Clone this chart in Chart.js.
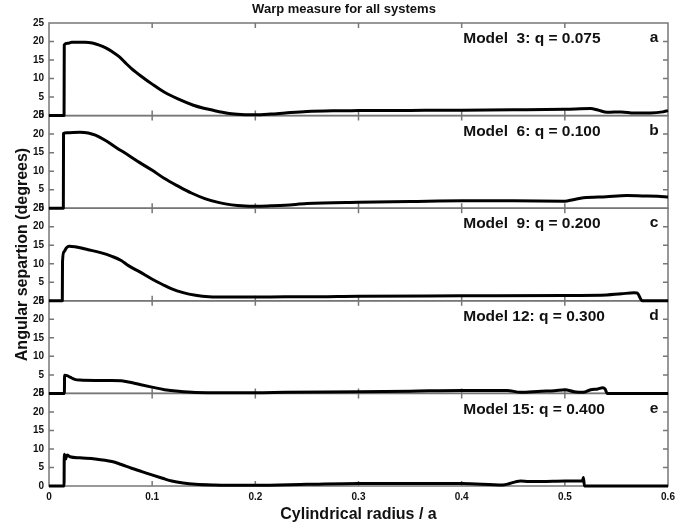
<!DOCTYPE html>
<html>
<head>
<meta charset="utf-8">
<script src="https://cdn.jsdelivr.net/npm/chart.js@4.4.1/dist/chart.umd.min.js"></script>
<style>
  html, body { margin: 0; padding: 0; background: #fff; }
</style>
</head>
<body>
<canvas id="warp-chart" width="688" height="524"></canvas>
<script>
// Dados (raio cilíndrico / a  e  separação angular em graus)
const raioA = [0, 0.0146, 0.0148, 0.018, 0.022, 0.035, 0.042, 0.048, 0.055, 0.061, 0.068, 0.075, 0.080, 0.090, 0.100, 0.112, 0.125, 0.140, 0.150, 0.158, 0.168, 0.177, 0.190, 0.200, 0.215, 0.229, 0.25, 0.275, 0.30, 0.35, 0.40, 0.45, 0.50, 0.525, 0.532, 0.541, 0.555, 0.567, 0.583, 0.595, 0.60];
const warpA = [0, 0, 19.1, 19.5, 19.8, 19.8, 19.6, 19.1, 18.3, 17.3, 15.9, 14.0, 12.7, 10.5, 8.5, 6.3, 4.5, 2.8, 2.0, 1.5, 0.9, 0.5, 0.25, 0.2, 0.4, 0.7, 1.1, 1.3, 1.35, 1.4, 1.45, 1.55, 1.7, 1.9, 1.5, 0.9, 1.0, 0.7, 0.7, 1.0, 1.35];

const raioB = [0, 0.0139, 0.0141, 0.017, 0.030, 0.038, 0.045, 0.054, 0.065, 0.077, 0.088, 0.0997, 0.112, 0.1255, 0.138, 0.151, 0.165, 0.177, 0.19, 0.20, 0.215, 0.229, 0.25, 0.30, 0.35, 0.40, 0.45, 0.50, 0.508, 0.518, 0.54, 0.56, 0.575, 0.59, 0.60];
const warpB = [0, 0, 20.2, 20.4, 20.5, 20.3, 19.7, 18.4, 16.4, 14.3, 12.3, 10.3, 8.0, 5.9, 4.1, 2.6, 1.5, 0.9, 0.6, 0.55, 0.65, 0.8, 1.25, 1.6, 1.8, 2.0, 2.0, 1.9, 2.3, 2.8, 3.1, 3.4, 3.3, 3.2, 3.0];

const raioC = [0, 0.0129, 0.0131, 0.0145, 0.017, 0.0195, 0.025, 0.038, 0.05, 0.061, 0.07, 0.077, 0.088, 0.0997, 0.11, 0.119, 0.13, 0.142, 0.155, 0.174, 0.20, 0.229, 0.25, 0.30, 0.40, 0.50, 0.535, 0.555, 0.567, 0.570, 0.575, 0.60];
const warpC = [0, 0, 10.5, 13.2, 14.3, 14.7, 14.6, 13.8, 13.0, 12.0, 10.9, 9.5, 7.8, 5.9, 4.4, 3.2, 2.2, 1.5, 1.1, 1.0, 1.0, 1.1, 1.1, 1.25, 1.35, 1.45, 1.5, 1.9, 2.15, 2.1, 0, 0];

const raioD = [0, 0.0149, 0.0151, 0.0175, 0.021, 0.025, 0.030, 0.045, 0.061, 0.070, 0.077, 0.088, 0.0997, 0.112, 0.1255, 0.142, 0.17, 0.20, 0.229, 0.30, 0.35, 0.40, 0.444, 0.457, 0.477, 0.49, 0.50, 0.509, 0.518, 0.525, 0.532, 0.5366, 0.539, 0.541, 0.60];
const warpD = [0, 0, 4.9, 4.8, 4.3, 3.8, 3.6, 3.5, 3.5, 3.4, 3.1, 2.4, 1.7, 1.0, 0.55, 0.25, 0.2, 0.2, 0.3, 0.45, 0.6, 0.8, 0.8, 0.3, 0.6, 0.7, 1.0, 0.45, 0.3, 1.0, 1.2, 1.5, 1.2, 0, 0];

const raioE = [0, 0.0146, 0.0148, 0.016, 0.0175, 0.0204, 0.030, 0.0447, 0.061, 0.070, 0.080, 0.090, 0.0997, 0.11, 0.119, 0.13, 0.142, 0.16, 0.174, 0.20, 0.25, 0.30, 0.40, 0.44, 0.457, 0.465, 0.477, 0.50, 0.517, 0.518, 0.519, 0.60];
const warpE = [0, 0, 8.6, 7.2, 8.4, 7.9, 7.6, 7.3, 6.6, 5.8, 4.8, 3.9, 3.0, 2.1, 1.35, 0.8, 0.45, 0.25, 0.2, 0.2, 0.45, 0.7, 0.7, 0.3, 1.35, 1.2, 1.2, 1.35, 1.35, 2.3, 0, 0];

const rotulosModelo = ['Model  3: q = 0.075', 'Model  6: q = 0.100', 'Model  9: q = 0.200', 'Model 12: q = 0.300', 'Model 15: q = 0.400'];
const letrasPainel = ['a', 'b', 'c', 'd', 'e'];
const ticksX = [0, 0.1, 0.2, 0.3, 0.4, 0.5, 0.6];
const ticksY = [0, 5, 10, 15, 20, 25];

const raios = [raioA, raioB, raioC, raioD, raioE];
const warps = [warpA, warpB, warpC, warpD, warpE];
const painelIds = ['yA', 'yB', 'yC', 'yD', 'yE'];

const FONTE = '"Liberation Sans", Arial, Helvetica, sans-serif';
const COR_TEXTO = '#111';
const COR_MOLDURA = '#777';

// Datasets (um por painel)
const datasets = painelIds.map((id, i) => ({
    label: rotulosModelo[i],
    data: raios[i].map((r, k) => ({ x: r, y: warps[i][k] })),
    yAxisID: id,
    xAxisID: 'x',
    borderColor: '#000',
    borderWidth: 3,
    pointRadius: 0,
    cubicInterpolationMode: 'monotone',
    fill: false,
    clip: false,
    borderJoinStyle: 'round'
}));

// Escalas: eixo x comum + 5 eixos y empilhados
const scales = {
    x: {
        type: 'linear',
        min: 0,
        max: 0.6,
        afterBuildTicks: s => { s.ticks = ticksX.map(v => ({ value: v })); },
        ticks: {
            padding: 5,
            color: COR_TEXTO,
            font: { family: FONTE, size: 10, weight: 'bold' },
            callback: v => String(+v.toFixed(1))
        },
        grid: { display: false, drawTicks: false },
        border: { display: false },
        title: {
            display: true,
            text: 'Cylindrical radius / a',
            color: COR_TEXTO,
            padding: { top: 0, bottom: 0 },
            font: { family: FONTE, size: 16, weight: 'bold' }
        },
        afterFit: s => { s.height = 38; }
    },
    // margem direita (mantém o título centrado na largura toda)
    yDireita: {
        type: 'linear',
        position: 'right',
        min: 0,
        max: 25,
        ticks: { display: false },
        grid: { display: false, drawTicks: false },
        border: { display: false },
        afterFit: s => { s.width = 20; }
    }
};

// ordem inversa: o último eixo definido fica no topo da pilha
for (let i = painelIds.length - 1; i >= 0; i--) {
    scales[painelIds[i]] = {
        type: 'linear',
        position: 'left',
        stack: 'paineis',
        stackWeight: 1,
        min: 0,
        max: 25,
        afterBuildTicks: s => { s.ticks = ticksY.map(v => ({ value: v })); },
        ticks: {
            autoSkip: false,
            padding: 5,
            color: COR_TEXTO,
            font: { family: FONTE, size: 10, weight: 'bold' }
        },
        grid: { display: false, drawTicks: false },
        border: { display: false },
        title: {
            display: i === 2,
            text: 'Angular separtion (degrees)',
            color: COR_TEXTO,
            padding: { top: 13, bottom: 0 },
            font: { family: FONTE, size: 16, weight: 'bold' }
        },
        afterFit: s => { s.width = 49; }
    };
}

// Moldura, marcas internas e rótulos de cada painel
const molduraPaineis = {
    id: 'molduraPaineis',
    beforeDatasetsDraw(chart) {
        const ctx = chart.ctx;
        const area = chart.chartArea;
        const sx = chart.scales.x;
        ctx.save();
        ctx.strokeStyle = COR_MOLDURA;
        ctx.lineWidth = 1.5;
        painelIds.forEach(id => {
            const sy = chart.scales[id];
            ctx.strokeRect(area.left, sy.top, area.right - area.left, sy.bottom - sy.top);
            ctx.beginPath();
            ticksX.slice(1, -1).forEach(v => {
                const px = sx.getPixelForValue(v);
                ctx.moveTo(px, sy.top); ctx.lineTo(px, sy.top + 5);
                ctx.moveTo(px, sy.bottom); ctx.lineTo(px, sy.bottom - 5);
            });
            ticksY.slice(1, -1).forEach(v => {
                const py = sy.getPixelForValue(v);
                ctx.moveTo(area.left, py); ctx.lineTo(area.left + 5, py);
                ctx.moveTo(area.right, py); ctx.lineTo(area.right - 5, py);
            });
            ctx.stroke();
        });
        ctx.restore();
    },
    afterDatasetsDraw(chart) {
        const ctx = chart.ctx;
        const sx = chart.scales.x;
        ctx.save();
        ctx.fillStyle = COR_TEXTO;
        ctx.font = 'bold 15.5px ' + FONTE;
        ctx.textBaseline = 'middle';
        painelIds.forEach((id, i) => {
            const sy = chart.scales[id];
            ctx.textAlign = 'left';
            ctx.fillText(rotulosModelo[i], sx.getPixelForValue(0.4015), sy.top + 16);
            ctx.textAlign = 'center';
            ctx.fillText(letrasPainel[i], sx.getPixelForValue(0.5865), sy.top + 15);
        });
        ctx.restore();
    }
};

const ctx = document.getElementById('warp-chart').getContext('2d');
const warpChart = new Chart(ctx, {
    type: 'line',
    data: { datasets },
    options: {
        responsive: false,
        animation: false,
        layout: { padding: 0 },
        scales,
        plugins: {
            legend: { display: false },
            tooltip: { enabled: false },
            title: {
                display: true,
                text: 'Warp measure for all systems',
                color: COR_TEXTO,
                padding: { top: 2, bottom: 5.4 },
                font: { family: FONTE, size: 13, weight: 'bold' }
            }
        }
    },
    plugins: [molduraPaineis]
});
</script>
</body>
</html>
